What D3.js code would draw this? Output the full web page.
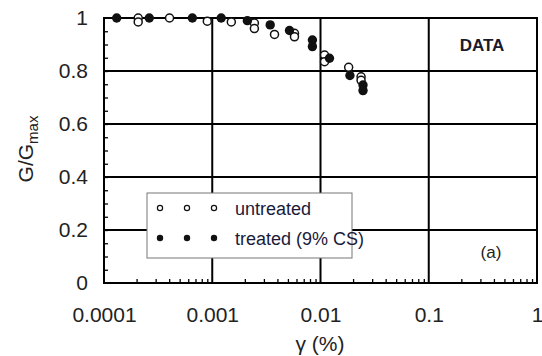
<!DOCTYPE html>
<html><head><meta charset="utf-8">
<script src="https://cdn.jsdelivr.net/npm/d3@7"></script>
<style>body{margin:0;background:#fff;}svg{display:block;font-family:"Liberation Sans",Arial,sans-serif;}</style>
</head><body>
<script>
const xTickValues = [0.0001, 0.001, 0.01, 0.1, 1];
const xTickLabels = ["0.0001", "0.001", "0.01", "0.1", "1"];
const yTickValues = [0, 0.2, 0.4, 0.6, 0.8, 1];
const yTickLabels = ["0", "0.2", "0.4", "0.6", "0.8", "1"];

// untreated (open circles)
const untreatedStrain = [2.07e-4, 2.07e-4, 4.03e-4, 9.0e-4, 1.50e-3, 2.45e-3, 2.45e-3, 3.76e-3, 5.75e-3, 5.75e-3, 1.09e-2, 1.09e-2, 1.82e-2, 2.37e-2, 2.37e-2];
const untreatedG      = [1.0, 0.985, 1.0, 0.988, 0.985, 0.981, 0.960, 0.938, 0.942, 0.929, 0.860, 0.835, 0.814, 0.778, 0.765];
// treated 9% CS (filled circles)
const treatedStrain = [1.31e-4, 2.62e-4, 6.55e-4, 1.21e-3, 2.11e-3, 3.43e-3, 5.17e-3, 8.42e-3, 8.42e-3, 1.21e-2, 1.87e-2, 2.47e-2, 2.47e-2];
const treatedG      = [1.0, 1.0, 1.0, 1.0, 0.990, 0.974, 0.953, 0.917, 0.892, 0.848, 0.783, 0.747, 0.726];

const legendLabels = ["untreated", "treated (9% CS)"];

const W = 542, H = 356;
const m = {left: 104, right: 537, top: 18, bottom: 283};
const svg = d3.select("body").append("svg").attr("width", W).attr("height", H);

const x = d3.scaleLog().domain([0.0001, 1]).range([m.left, m.right]);
const y = d3.scaleLinear().domain([0, 1]).range([m.bottom, m.top]);

// minor ticks x (inside, bottom)
const minorX = [];
for (let d = -4; d < 0; d++) for (let k = 2; k <= 9; k++) minorX.push(k * Math.pow(10, d));
svg.append("g").attr("transform", `translate(0,${m.bottom})`)
  .call(d3.axisBottom(x).tickValues(minorX).tickSize(-4).tickFormat(""))
  .call(g => g.select(".domain").remove())
  .call(g => g.selectAll("line").attr("stroke", "#000").attr("stroke-width", 1.3));
// minor ticks y (inside, left)
const minorY = d3.range(0.05, 1, 0.05);
svg.append("g").attr("transform", `translate(${m.left},0)`)
  .call(d3.axisLeft(y).tickValues(minorY).tickSize(-4).tickFormat(""))
  .call(g => g.select(".domain").remove())
  .call(g => g.selectAll("line").attr("stroke", "#000").attr("stroke-width", 1.3));

// gridlines
svg.append("g").selectAll("line").data(xTickValues.slice(1, -1)).join("line")
  .attr("x1", d => x(d)).attr("x2", d => x(d)).attr("y1", m.top).attr("y2", m.bottom)
  .attr("stroke", "#000").attr("stroke-width", 2);
svg.append("g").selectAll("line").data(yTickValues.slice(1, -1)).join("line")
  .attr("y1", d => y(d)).attr("y2", d => y(d)).attr("x1", m.left).attr("x2", m.right)
  .attr("stroke", "#000").attr("stroke-width", 2);

// axes labels
svg.append("g").attr("transform", `translate(0,${m.bottom})`)
  .call(d3.axisBottom(x).tickValues(xTickValues).tickSize(0).tickPadding(24).tickFormat((d, i) => xTickLabels[i]))
  .call(g => g.select(".domain").remove())
  .call(g => g.selectAll("text").attr("font-size", 21).attr("fill", "#222").attr("font-family", "Liberation Sans, Arial, sans-serif"));
svg.append("g").attr("transform", `translate(${m.left},0)`)
  .call(d3.axisLeft(y).tickValues(yTickValues).tickSize(0).tickPadding(16).tickFormat((d, i) => yTickLabels[i]))
  .call(g => g.select(".domain").remove())
  .call(g => g.selectAll("text").attr("font-size", 21).attr("fill", "#222").attr("font-family", "Liberation Sans, Arial, sans-serif"));

// frame
svg.append("rect").attr("x", m.left).attr("y", m.top).attr("width", m.right - m.left).attr("height", m.bottom - m.top)
  .attr("fill", "none").attr("stroke", "#000").attr("stroke-width", 2);

// data
const pts = svg.append("g");
pts.selectAll("circle.u").data(untreatedStrain.map((s, i) => [s, untreatedG[i]])).join("circle")
  .attr("class", "u").attr("cx", d => x(d[0])).attr("cy", d => y(d[1])).attr("r", 4)
  .attr("fill", "#fff").attr("stroke", "#111").attr("stroke-width", 1.5);
pts.selectAll("circle.t").data(treatedStrain.map((s, i) => [s, treatedG[i]])).join("circle")
  .attr("class", "t").attr("cx", d => x(d[0])).attr("cy", d => y(d[1])).attr("r", 4.7)
  .attr("fill", "#111");

// legend
const lg = svg.append("g");
lg.append("rect").attr("x", 147).attr("y", 193).attr("width", 205).attr("height", 65)
  .attr("fill", "#fff").attr("stroke", "#777").attr("stroke-width", 1);
const lx = [160, 187, 214];
lx.forEach(px => {
  lg.append("circle").attr("cx", px).attr("cy", 208).attr("r", 2.6).attr("fill", "#fff").attr("stroke", "#111").attr("stroke-width", 1.2);
  lg.append("circle").attr("cx", px).attr("cy", 238).attr("r", 3.2).attr("fill", "#111");
});
lg.selectAll("text").data(legendLabels).join("text")
  .attr("x", 235).attr("y", (d, i) => 215 + i * 30).attr("font-size", 18).attr("fill", "#1a1a3a").text(d => d);

// annotations
svg.append("text").attr("x", 482).attr("y", 51).attr("text-anchor", "middle").attr("font-size", 17)
  .attr("font-weight", "bold").attr("fill", "#1a1a2a").text("DATA");
svg.append("text").attr("x", 491).attr("y", 258).attr("text-anchor", "middle").attr("font-size", 17)
  .attr("fill", "#222").text("(a)");

// axis titles
svg.append("text").attr("x", 320).attr("y", 351).attr("text-anchor", "middle").attr("font-size", 21)
  .attr("fill", "#222").text("γ (%)");
const yt = svg.append("text").attr("transform", "translate(33,149) rotate(-90)").attr("text-anchor", "middle")
  .attr("font-size", 21).attr("fill", "#222");
yt.append("tspan").text("G/G");
yt.append("tspan").attr("font-size", 15).attr("dy", 5).text("max");
</script>
</body></html>
